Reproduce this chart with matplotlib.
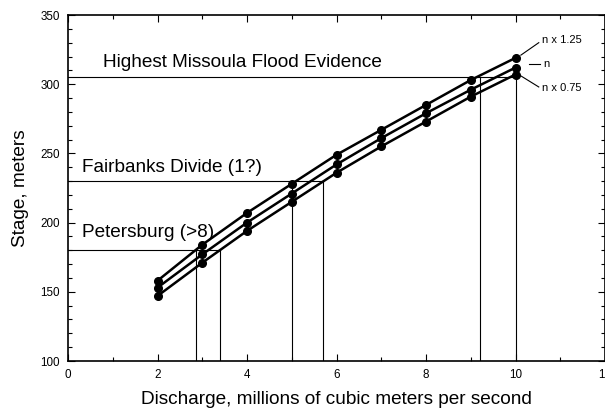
import matplotlib
matplotlib.use("Agg")
import matplotlib.pyplot as plt
from matplotlib.ticker import MultipleLocator

plt.rcParams['font.family'] = ['Liberation Sans', 'DejaVu Sans']

discharge = [2, 3, 4, 5, 6, 7, 8, 9, 10]
stage_n125 = [158, 184, 207, 228, 249, 267, 285, 303, 319]
stage_n = [153, 177, 200, 221, 242, 261, 279, 296, 312]
stage_n075 = [147, 171, 194, 215, 236, 255, 273, 291, 307]

levels = [305, 230, 180]
level_names = ["Highest Missoula Flood Evidence", "Fairbanks Divide (1?)", "Petersburg (>8)"]
level_x = [(9.2, 10.0), (5.0, 5.7), (2.85, 3.4)]

fig = plt.figure(figsize=(6.05, 4.09), dpi=100)
ax = fig.add_axes([68/605, 48/409, (605-68)/605, (361-15)/409])

for ys in (stage_n125, stage_n, stage_n075):
    ax.plot(discharge, ys, color='black', lw=1.8, marker='o', ms=5.5)

text_pos = [(0.78, 312.5), (0.31, 236.5), (0.31, 189.5)]
for lv, name, (x1, x2), (tx, ty) in zip(levels, level_names, level_x, text_pos):
    ax.plot([0, x2], [lv, lv], color='black', lw=0.8)
    ax.plot([x1, x1], [100, lv], color='black', lw=0.8)
    ax.plot([x2, x2], [100, lv], color='black', lw=0.8)
    ax.text(tx, ty, name, fontsize=13.7, ha='left', va='baseline')

# curve labels
ax.plot([10.12, 10.52], [321, 330], color='black', lw=0.8)
ax.text(10.6, 332, "n x 1.25", fontsize=8, va='center')
ax.plot([10.3, 10.55], [314.5, 314.5], color='black', lw=0.8)
ax.text(10.62, 314.5, "n", fontsize=8, va='center')
ax.plot([10.12, 10.52], [306, 298], color='black', lw=0.8)
ax.text(10.6, 297, "n x 0.75", fontsize=8, va='center')

ax.set_xlim(0, 12)
ax.set_ylim(100, 350)
ax.xaxis.set_major_locator(MultipleLocator(2))
ax.xaxis.set_minor_locator(MultipleLocator(1))
ax.yaxis.set_major_locator(MultipleLocator(50))
ax.yaxis.set_minor_locator(MultipleLocator(10))
ax.tick_params(which='both', direction='in', top=True, right=True, labelsize=8.4, width=0.8)
ax.tick_params(which='major', length=5, pad=6)
ax.tick_params(which='minor', length=3)
for s in ax.spines.values():
    s.set_linewidth(1.2)

ax.set_xlabel("Discharge, millions of cubic meters per second", fontsize=13.7, labelpad=7)
ax.set_ylabel("Stage, meters", fontsize=13.7, labelpad=8)

fig.savefig("out.png", dpi=100)
